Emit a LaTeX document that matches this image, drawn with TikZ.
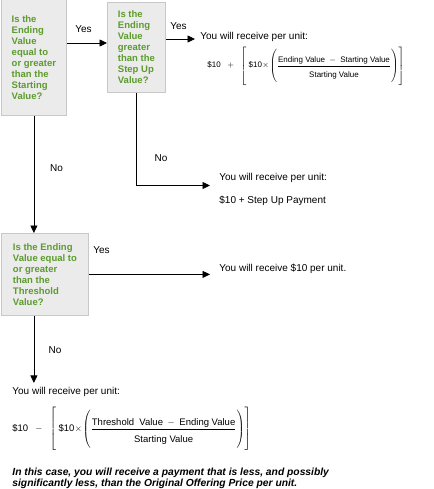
\documentclass[tikz,border=0pt]{standalone}
\usepackage{amsmath}
\usepackage{fontspec}
\setmainfont{Liberation Sans}
\usetikzlibrary{arrows.meta,positioning,calc}
\definecolor{qgreen}{RGB}{92,155,45}
\definecolor{qfill}{RGB}{235,235,235}
\definecolor{qline}{RGB}{200,200,200}
\tikzset{
    >={Triangle[length=7.5pt,width=7pt]},
    every picture/.style={line width=0.8pt},
    question/.style={rectangle,draw=qline,fill=qfill,text=qgreen,align=left,anchor=north west,
        inner sep=0pt,font=\bfseries\fontsize{9.5}{11}\selectfont},
    answer/.style={anchor=west,inner sep=0pt,align=left,font=\fontsize{10}{12}\selectfont},
    branch/.style={inner sep=0pt,font=\fontsize{10}{12}\selectfont}
}

\begin{document}
\begin{tikzpicture}[x=1pt,y=-1pt]
    \useasboundingbox (0,0) rectangle (433,489);

    % Questions
    \node[question,minimum width=65pt,minimum height=116pt] (q1) at (1,-1)
        {Is the\\Ending\\Value\\equal to\\or greater\\than the\\Starting\\Value?};
    \node[question,minimum width=58pt,minimum height=90pt] (q2) at (107,2)
        {Is the\\Ending\\Value\\greater\\than the\\Step Up\\Value?};
    \node[question,minimum width=87pt,minimum height=82pt] (q3) at (1,233)
        {Is the Ending\\Value equal to\\or greater\\than the\\Threshold\\Value?};

    % Payments
    \node[answer] (a1) at (200,37) {You will receive per unit:};
    \node[answer,font=\fontsize{8}{10}\selectfont] (f1) at (207,66)
        {$\text{\$10}\;\;+\;\;\left[\rule[-17pt]{0pt}{21pt}\;\text{\$10}\!\times\!\left(\rule[-14pt]{0pt}{18pt}\dfrac{\text{Ending Value}\;-\;\text{Starting Value}}{\rule{0pt}{10pt}\text{Starting Value}}\right)\right]$};
    \node[answer] (a2) at (219,189) {You will receive per unit:\\[11pt]\$10 + Step Up Payment};
    \node[answer] (a3) at (219,269) {You will receive \$10 per unit.};
    \node[answer] (a4) at (12,392) {You will receive per unit:};
    \node[answer,font=\fontsize{9.5}{11}\selectfont] (f2) at (12,430)
        {$\text{\$10}\;\;-\;\;\left[\rule[-21pt]{0pt}{26pt}\;\text{\$10}\!\times\!\left(\rule[-18pt]{0pt}{23pt}\dfrac{\text{Threshold\ \ Value}\;-\;\text{Ending Value}}{\rule{0pt}{12pt}\text{Starting Value}}\right)\right]$};
    \node[answer,anchor=north west,font=\bfseries\itshape\fontsize{10.3}{11}\selectfont] (note) at (12,468)
        {In this case, you will receive a payment that is less, and possibly\\significantly less, than the Original Offering Price per unit.};

    % Yes / No
    \node[branch] (yes1) at (83.5,29) {Yes};
    \node[branch] (yes2) at (178.5,26) {Yes};
    \node[branch] (yes3) at (101.5,250) {Yes};
    \node[branch] (no1) at (56.5,168) {No};
    \node[branch] (no2) at (161,158) {No};
    \node[branch] (no3) at (55,350) {No};

    % Connectors
    \draw[->] (q1.east |- 0,43) -- (q2.west |- 0,43);
    \draw[->] (q2.east |- 0,39) -- ([xshift=-5pt]a1.west |- 0,39);
    \draw[->] (q1.south) -- (q1.south |- q3.north);
    \draw[->] (q2.south) |- ([xshift=-9pt,yshift=3.5pt]a2.west);
    \draw[->] (q3.east) -- ([xshift=-9pt]a3.west |- q3.east);
    \draw[->] (q3.south -| q1.south) -- ([yshift=4pt]a4.north -| q1.south);
\end{tikzpicture}
\end{document}
